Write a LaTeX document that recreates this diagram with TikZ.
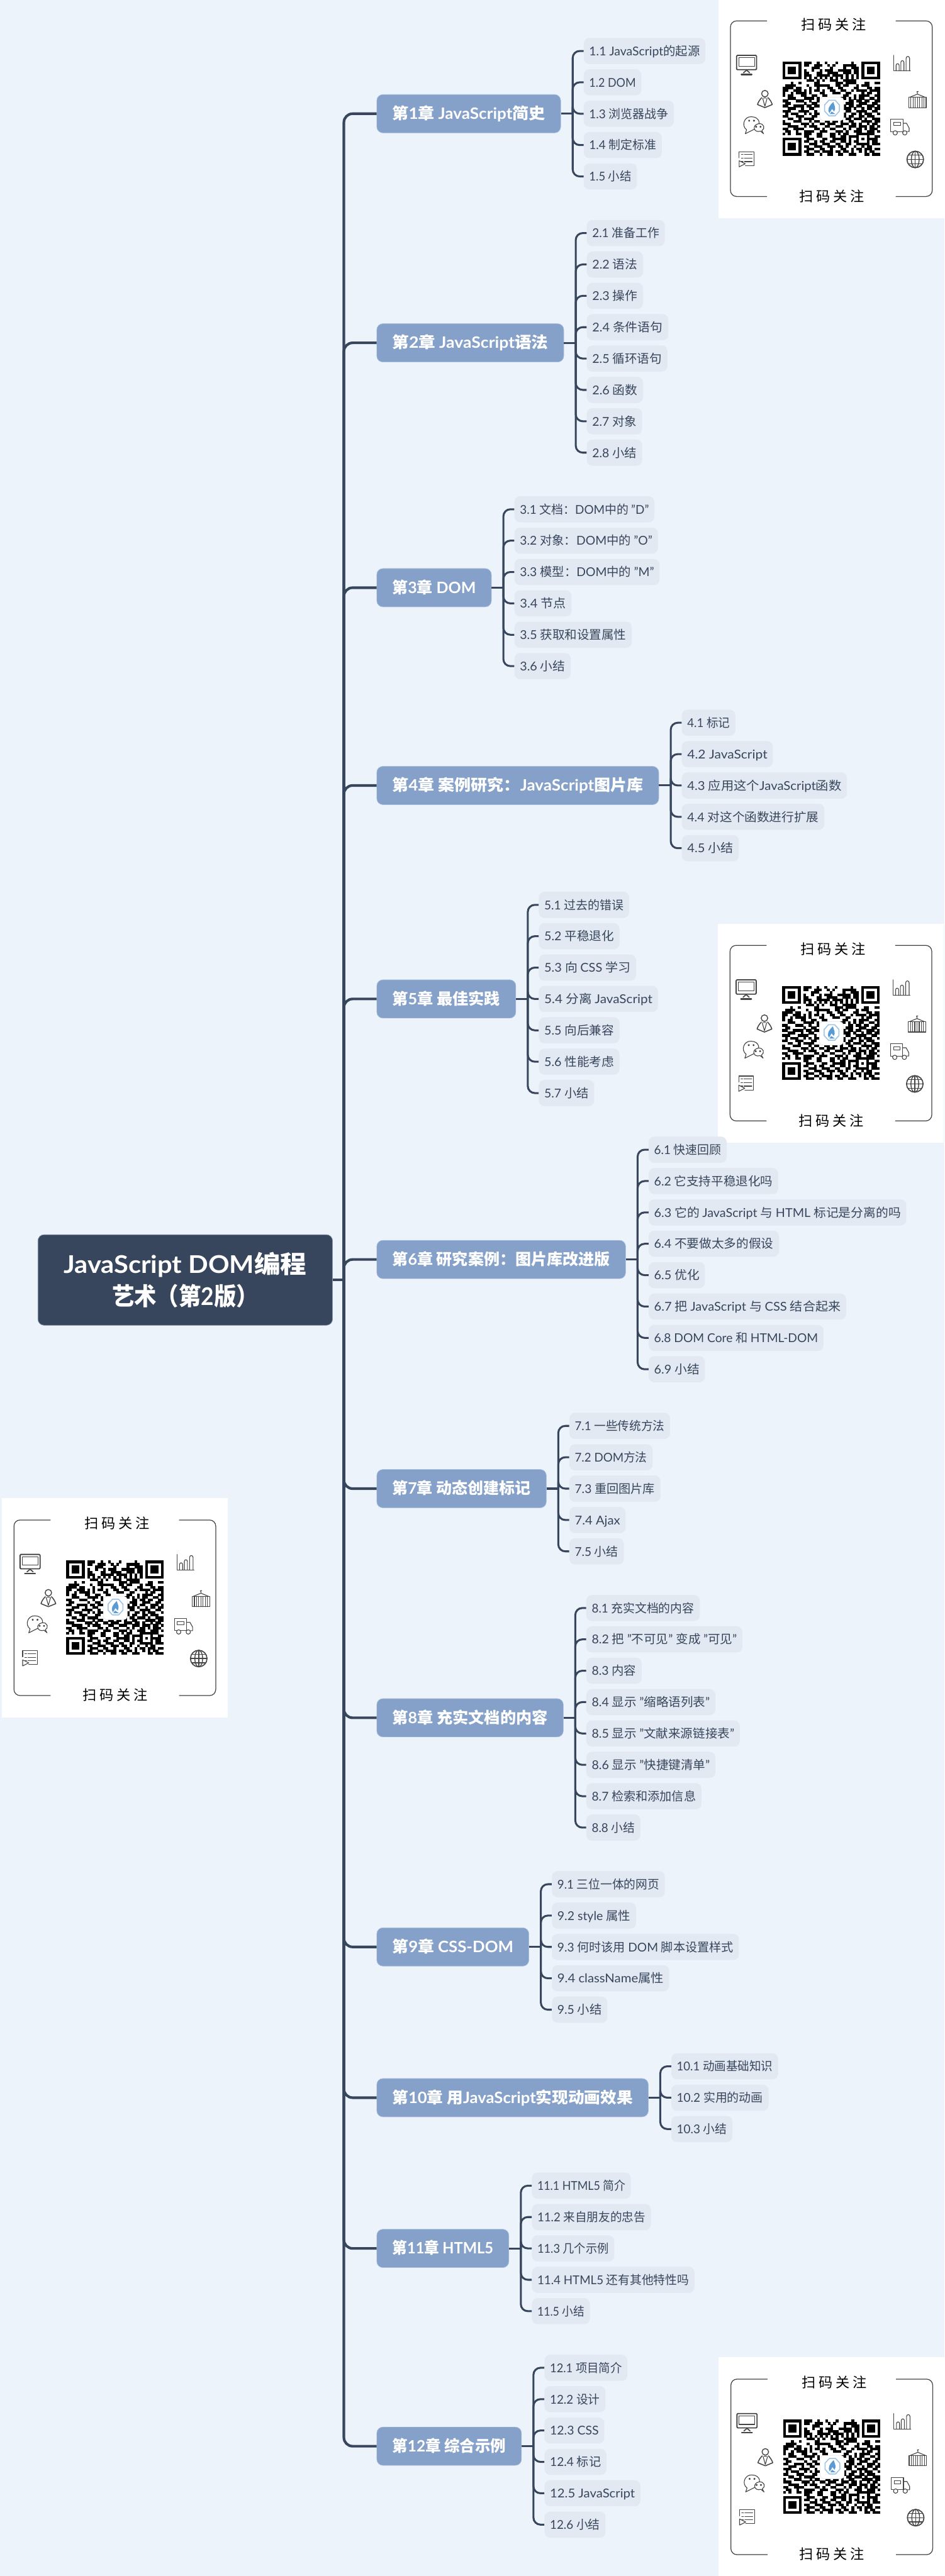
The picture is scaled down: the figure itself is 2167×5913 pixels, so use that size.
\documentclass[tikz,border=0pt]{standalone}
\usepackage{fontspec}
\usepackage{graphicx}
\setmainfont{Lato}
\newfontfamily\cjkfam{Noto Sans CJK SC}
\newfontfamily\cjkspaced[LetterSpace=22]{Noto Sans CJK SC}
\definecolor{bgc}{HTML}{ECF3FB}
\definecolor{rootc}{HTML}{37465C}
\definecolor{rootb}{HTML}{8A99AE}
\definecolor{chapc}{HTML}{85A1C9}
\definecolor{chapb}{HTML}{A8BEDD}
\definecolor{leafc}{HTML}{E3E9F2}
\definecolor{linec}{HTML}{37465C}
\definecolor{iconc}{HTML}{444444}
\definecolor{logoc}{HTML}{5B9BD5}
\definecolor{logob}{HTML}{9CC3E6}
% automatic switch to the CJK family
\XeTeXinterchartokenstate=1
\newXeTeXintercharclass\cjkcls
\newcount\cjkloop
\cjkloop="4E00 \loop\ifnum\cjkloop<"A000 \XeTeXcharclass\cjkloop=\cjkcls \advance\cjkloop by 1 \repeat
\cjkloop="3000 \loop\ifnum\cjkloop<"3040 \XeTeXcharclass\cjkloop=\cjkcls \advance\cjkloop by 1 \repeat
\cjkloop="FF00 \loop\ifnum\cjkloop<"FFF0 \XeTeXcharclass\cjkloop=\cjkcls \advance\cjkloop by 1 \repeat
\XeTeXinterchartoks 0 \cjkcls = {\cjkfam}
\XeTeXinterchartoks 4095 \cjkcls = {\cjkfam}
\XeTeXinterchartoks \cjkcls 0 = {\rmfamily}
\XeTeXinterchartoks 4095 0 = {\rmfamily}
\tikzset{
  rootbox/.style={draw=rootb,line width=.5pt,fill=rootc,rounded corners=7pt,inner sep=0pt,text=white,font=\fontsize{28}{37}\selectfont\bfseries,align=center,minimum width=338pt,minimum height=104pt},
  chapbox/.style={draw=chapb,line width=.5pt,fill=chapc,rounded corners=7pt,inner sep=0pt,anchor=west,text=white,font=\fontsize{18}{22}\selectfont\bfseries,minimum height=44pt,text height=16pt,text depth=3.5pt},
  leafbox/.style={fill=leafc,rounded corners=6.5pt,inner sep=0pt,anchor=west,text=rootc,font=\fontsize{14}{17}\selectfont,minimum height=30pt,text height=13pt,text depth=2.5pt},
  trunk/.style={draw=linec,line width=3pt},
  twig/.style={draw=linec,line width=2.2pt},
  icon/.style={draw=iconc,line width=.8pt,line join=round,line cap=round},
  cardtext/.style={inner sep=0pt,text=black,font=\fontsize{16}{18}\selectfont},
}
\newcount\qrcol
\newcount\qrrowno
\def\qrscan#1{\ifx#1.\else\ifx#11\fill[black] (\the\qrcol,\the\qrrowno) rectangle ++(1.04,1.04);\fi\advance\qrcol by 1 \expandafter\qrscan\fi}
\newcommand\qrline[1]{\qrcol=0 \qrscan#1.\advance\qrrowno by 1 }
\newcommand\qrmatrix{%
\qrline{1111111 0 111001001000100000100 0 1111111}
\qrline{1000001 0 110011100101000111110 0 1000001}
\qrline{1011101 0 000111000010000100111 0 1011101}
\qrline{1011101 0 100100101110011111011 0 1011101}
\qrline{1011101 0 110001100111100111011 0 1011101}
\qrline{1000001 0 111001111101111010101 0 1000001}
\qrline{1111111 0 101010101010101010101 0 1111111}
\qrline{0000000 0 011101010011100111110 0 0000000}
\qrline{0001001 0 000011000000111011110 0 0110011}
\qrline{0111100001 0011111100 1101100010 1110000}
\qrline{1111011000 1001000110 0110000110 0011011}
\qrline{1100111010 1011010011 0011001011 1101111}
\qrline{1001011110 1000110001 1100110000 1011001}
\qrline{1011000110 0110011000 0001100101 1110011}
\qrline{0011100011 1101000000 0011010101 1001101}
\qrline{1100011100 1001000000 0010011011 0110011}
\qrline{0110000010 0110000000 0000111001 1100110}
\qrline{1100111101 1011000000 0011011011 0011101}
\qrline{0011100100 1100000000 0001110100 1011011}
\qrline{1110001111 0010000000 0000110011 1100110}
\qrline{0101110010 1011000000 0011001101 0111001}
\qrline{1100011100 0110000000 0001011001 1011100}
\qrline{0011001011 1100000000 0010110111 0100111}
\qrline{1000111000 1011001101 1010011000 1111011}
\qrline{1110000111 0100110111 0011101101 0010110}
\qrline{0011110010 1110001100 1110011101 1101101}
\qrline{1100111100 0011010011 0001010011 0101110}
\qrline{0110010011 1100111000 1110100111 0011101}
\qrline{1010011011 1001100011 0101100011 1111100}
\qrline{0000000011 0001100011 0011011110 0010011}
\qrline{1111111001 1100011001 1111010010 1011110}
\qrline{1000001011 0010110011 0011010110 0010110}
\qrline{1011101000 1110011100 1100110011 1110111}
\qrline{1011101011 0011100111 0110100100 1011000}
\qrline{1011101001 1100110010 0011001011 0111011}
\qrline{1000001011 0011011110 1101101001 0101100}
\qrline{1111111001 1100100110 0110011100 0110111}
}
\newcommand\cardicons{%
  % monitor
  \draw[icon,line width=1.3pt,fill=white,rounded corners=1pt] (42,129) rectangle (88,162);
  \draw[icon] (47,134) rectangle (83,154);
  \draw[icon,line width=1.2pt] (58,169) -- (65,163) -- (72,169);
  \draw[icon,line width=1.6pt] (53,173) -- (77,173);
  % person
  \draw[icon,line width=1pt] (107,217) circle (7.5);
  \draw[icon,line width=1.1pt] (100,226) .. controls (95,231) and (92,236) .. (90,242) -- (107,249) -- (124,242) .. controls (122,236) and (119,231) .. (114,226);
  \draw[icon] (102,228) -- (107,246) -- (112,228) (104,227) -- (110,227);
  % chat
  \draw[icon,fill=white] (62,309) -- (65,300) .. controls (52,290) and (60,269) .. (76,270) .. controls (96,270) and (100,290) .. (84,298) -- cycle;
  \draw[icon,fill=white] (104,309) -- (97,303) .. controls (82,308) and (76,290) .. (92,286) .. controls (106,284) and (108,298) .. (100,302) -- cycle;
  \foreach \px/\py in {71/279,82/279,87/293,97/293} \draw[icon] (\px,\py) circle (1.5);
  % document
  \draw[icon] (48,364) -- (48,350) -- (82,350) -- (82,382) -- (62,382);
  \foreach \py in {357,365,373} { \draw[icon] (53,\py) -- (57,\py); \draw[icon] (60,\py) -- (78,\py); }
  \draw[icon] (48,371) -- (62,378) -- (48,385) -- cycle;
  % chart
  \draw[icon] (402,129) -- (402,165) -- (441,165);
  \draw[icon] (408,165) -- (408,152) .. controls (408,147) and (415,147) .. (415,152) -- (415,165);
  \draw[icon] (419,165) -- (419,145) .. controls (419,140) and (426,140) .. (426,145) -- (426,165);
  \draw[icon] (431,165) -- (431,136) .. controls (431,130) and (439,130) .. (439,136) -- (439,165);
  % container
  \draw[icon] (437,225) rectangle (477,249);
  \foreach \px in {442,447,452,457,462,467,472} \draw[icon] (\px,225) -- (\px,249);
  \draw[icon] (440,225) -- (457,218) -- (474,225);
  \draw[icon] (457,218) -- (457,215) .. controls (454,213) and (456,211) .. (459,212);
  % truck
  \draw[icon] (401,304) -- (396,304) -- (396,276) -- (424,276) -- (424,304) -- (411,304);
  \draw[icon] (424,285) -- (432,285) -- (438,296) -- (438,304) -- (433,304) (423,304) -- (424,304);
  \draw[icon] (403,283) rectangle (418,290);
  \draw[icon] (406,307) circle (5) (428,307) circle (5);
  % globe
  \draw[icon,line width=1.2pt] (452,368) circle (19);
  \draw[icon,line width=1pt] (452,368) ellipse (9 and 19);
  \draw[icon,line width=1pt] (452,349) -- (452,387) (433,368) -- (471,368) (436,358) -- (468,358) (436,378) -- (468,378);
}
\newcommand\qrcard[2]{%
  \begin{scope}[shift={#1}]
    \fill[white] (0,0) rectangle (519,503);
    \draw[iconc,line width=.9pt,rounded corners=7pt] (112,50) -- (28,50) -- (28,453) -- (112,453);
    \draw[iconc,line width=.9pt,rounded corners=7pt] (407,50) -- (491,50) -- (491,453) -- (407,453);
    \node[cardtext] (#2top) at (265,58) {\XeTeXinterchartokenstate=0 \cjkspaced 扫码关注};
    \node[cardtext] (#2bot) at (260,452) {\XeTeXinterchartokenstate=0 \cjkspaced 扫码关注};
    \begin{scope}[shift={(148,143)},x=3.014pt,y=-2.92pt]
      \qrrowno=0 \qrmatrix
    \end{scope}
    \fill[white,draw=black!12,line width=.4pt,rounded corners=4pt] (233,225) rectangle (288,279);
    \draw[logob,line width=1.1pt,line join=round] (254,232) -- (268,232) -- (278,243) -- (278,257) -- (268,268) -- (254,268) -- (244,257) -- (244,243) -- cycle;
    \fill[logoc] (264,236) .. controls (266,244) and (271,250) .. (266,258) -- (261,252) -- (255,262) .. controls (250,255) and (253,246) .. cycle;
    \fill[logoc] (260,258) -- (269,264) -- (256,264) -- cycle;
    \cardicons
  \end{scope}
}
\newcommand\chapnode[5]{% name, right edge, centre y, leaf count, text
  \pgfmathsetlengthmacro\tfit{(#2-864-71)*0.5pt}%
  \node[chapbox,minimum width={(#2-864)*0.5pt}] (#1) at (864,#3) {\resizebox{\tfit}{\height}{#5}};
  \draw[trunk,rounded corners=10pt] (sp) |- (#1.west);
  \coordinate (#1b) at ([xshift=13.5pt]#1.east);
  \draw[twig] (#1.east) -- (#1b);
  \def\curch{#1}%
  \pgfmathtruncatemacro\curleft{#2+53}%
  \pgfmathtruncatemacro\cury{#3-36*(#4-1)}%
}
\newcommand\lf[3]{% name, right edge, text
  \pgfmathsetlengthmacro\tfit{(#2-\curleft-25)*0.5pt}%
  \node[leafbox,minimum width={(#2-\curleft)*0.5pt}] (#1) at (\curleft,\cury) {\resizebox{\tfit}{\height}{#3}};
  \draw[twig,rounded corners=8pt] (\curch b) |- (#1.west);
  \pgfmathtruncatemacro\cury{\cury+72}%
}
\begin{document}
\begin{tikzpicture}[x=0.5pt,y=-0.5pt]
\useasboundingbox (0,0) rectangle (2167,5913);
\fill[bgc] (0,0) rectangle (2167,5913);
\qrcard{(1648,-2)}{qa}
\qrcard{(4,3439)}{qb}
\qrcard{(1647,2120)}{qc}
\qrcard{(1649,5411)}{qd}
\node[rootbox] (root) at (425,2938) {\resizebox{278.5pt}{\height}{JavaScript DOM编程}\\\resizebox{168pt}{\height}{艺术（第2版）}};
\coordinate (sp) at (789,2938);
\draw[trunk] (root.east) -- (sp);
\chapnode{c1}{1286}{261}{5}{第1章 JavaScript简史}
\lf{l101}{1618}{1.1 JavaScript的起源}
\lf{l102}{1471}{1.2 DOM}
\lf{l103}{1546}{1.3 浏览器战争}
\lf{l104}{1518}{1.4 制定标准}
\lf{l105}{1461}{1.5 小结}
\chapnode{c2}{1293}{787}{8}{第2章 JavaScript语法}
\lf{l201}{1525}{2.1 准备工作}
\lf{l202}{1475}{2.2 语法}
\lf{l203}{1475}{2.3 操作}
\lf{l204}{1533}{2.4 条件语句}
\lf{l205}{1531}{2.5 循环语句}
\lf{l206}{1475}{2.6 函数}
\lf{l207}{1473}{2.7 对象}
\lf{l208}{1473}{2.8 小结}
\chapnode{c3}{1127}{1349}{6}{第3章 DOM}
\lf{l301}{1501}{3.1 文档：DOM中的 "D"}
\lf{l302}{1509}{3.2 对象：DOM中的 "O"}
\lf{l303}{1513}{3.3 模型：DOM中的 "M"}
\lf{l304}{1311}{3.4 节点}
\lf{l305}{1449}{3.5 获取和设置属性}
\lf{l306}{1309}{3.6 小结}
\chapnode{c4}{1511}{1803}{5}{第4章 案例研究：JavaScript图片库}
\lf{l401}{1687}{4.1 标记}
\lf{l402}{1773}{4.2 JavaScript}
\lf{l403}{1943}{4.3 应用这个JavaScript函数}
\lf{l404}{1891}{4.4 对这个函数进行扩展}
\lf{l405}{1695}{4.5 小结}
\chapnode{c5}{1183}{2293}{7}{第5章 最佳实践}
\lf{l501}{1443}{5.1 过去的错误}
\lf{l502}{1421}{5.2 平稳退化}
\lf{l503}{1459}{5.3 向 CSS 学习}
\lf{l504}{1509}{5.4 分离 JavaScript}
\lf{l505}{1421}{5.5 向后兼容}
\lf{l506}{1421}{5.6 性能考虑}
\lf{l507}{1363}{5.7 小结}
\chapnode{c6}{1435}{2891}{8}{第6章 研究案例：图片库改进版}
\lf{l601}{1667}{6.1 快速回顾}
\lf{l602}{1785}{6.2 它支持平稳退化吗}
\lf{l603}{2079}{6.3 它的 JavaScript 与 HTML 标记是分离的吗}
\lf{l604}{1787}{6.4 不要做太多的假设}
\lf{l605}{1617}{6.5 优化}
\lf{l607}{1941}{6.7 把 JavaScript 与 CSS 结合起来}
\lf{l608}{1889}{6.8 DOM Core 和 HTML-DOM}
\lf{l609}{1617}{6.9 小结}
\chapnode{c7}{1253}{3417}{5}{第7章 动态创建标记}
\lf{l701}{1537}{7.1 一些传统方法}
\lf{l702}{1497}{7.2 DOM方法}
\lf{l703}{1515}{7.3 重回图片库}
\lf{l704}{1435}{7.4 Ajax}
\lf{l705}{1431}{7.5 小结}
\chapnode{c8}{1292}{3943}{8}{第8章 充实文档的内容}
\lf{l801}{1605}{8.1 充实文档的内容}
\lf{l802}{1703}{8.2 把 "不可见" 变成 "可见"}
\lf{l803}{1472}{8.3 内容}
\lf{l804}{1641}{8.4 显示 "缩略语列表"}
\lf{l805}{1697}{8.5 显示 "文献来源链接表"}
\lf{l806}{1641}{8.6 显示 "快捷键清单"}
\lf{l807}{1609}{8.7 检索和添加信息}
\lf{l808}{1469}{8.8 小结}
\chapnode{c9}{1213}{4469}{5}{第9章 CSS-DOM}
\lf{l901}{1525}{9.1 三位一体的网页}
\lf{l902}{1459}{9.2 style 属性}
\lf{l903}{1695}{9.3 何时该用 DOM 脚本设置样式}
\lf{l904}{1535}{9.4 className属性}
\lf{l905}{1393}{9.5 小结}
\chapnode{c10}{1487}{4815}{3}{第10章 用JavaScript实现动画效果}
\lf{l1001}{1785}{10.1 动画基础知识}
\lf{l1002}{1763}{10.2 实用的动画}
\lf{l1003}{1680}{10.3 小结}
\chapnode{c11}{1167}{5161}{5}{第11章 HTML5}
\lf{l1101}{1447}{11.1 HTML5 简介}
\lf{l1102}{1493}{11.2 来自朋友的忠告}
\lf{l1103}{1409}{11.3 几个示例}
\lf{l1104}{1593}{11.4 HTML5 还有其他特性吗}
\lf{l1105}{1353}{11.5 小结}
\chapnode{c12}{1196}{5615}{6}{第12章 综合示例}
\lf{l1201}{1439}{12.1 项目简介}
\lf{l1202}{1389}{12.2 设计}
\lf{l1203}{1386}{12.3 CSS}
\lf{l1204}{1391}{12.4 标记}
\lf{l1205}{1469}{12.5 JavaScript}
\lf{l1206}{1389}{12.6 小结}
\end{tikzpicture}
\end{document}
